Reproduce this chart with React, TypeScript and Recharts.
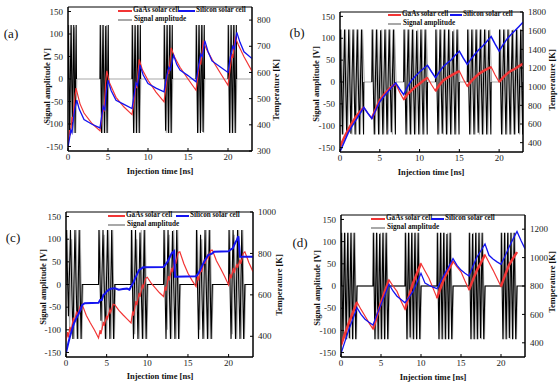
import { LineChart, Line, XAxis, YAxis, ReferenceArea } from "recharts";

type Pt = [number, number | null];

// shared ticks
const TIME_TICKS = [0, 5, 10, 15, 20];
const AMP_TICKS = [-150, -100, -50, 0, 50, 100, 150];

// ---------- panel (a) ----------
const A_TEMP_TICKS = [300, 400, 500, 600, 700, 800];
const A_GREY: Pt[] = [
  [0, 0], [0.1, 120], [0.28, -120], [0.46, 120], [0.63, -120], [0.8, 115], [0.96, -120], [1.1, 0],
  [4, 0], [4.1, 120], [4.28, -120], [4.46, 120], [4.63, -120], [4.8, 120], [4.96, -120], [5.1, 0],
  [8, 0], [8.1, 120], [8.28, -120], [8.46, 118], [8.63, -120], [8.8, 120], [8.97, -120], [9.1, 0],
  [12, 0], [12.1, 120], [12.28, -120], [12.46, 120], [12.63, -120], [12.8, 120], [12.96, -120], [13.1, 0],
  [16, 0], [16.1, 120], [16.28, -120], [16.46, 120], [16.63, -115], [16.8, 120], [16.96, -120], [17.1, 0],
  [20, 0], [20.1, 120], [20.28, -120], [20.46, 120], [20.63, -120], [20.8, 120], [20.97, -120], [21.1, 0], [23, 0],
];
const A_BLACK: Pt[] = [
  [0, 0], [0.03, 120], [0.2, -120], [0.38, 120], [0.55, -110], [0.72, 120], [0.88, -120], [1.02, 120], [1.06, 0], [1.07, null],
  [4, 0], [4.03, 120], [4.2, -120], [4.37, 120], [4.55, -120], [4.72, 118], [4.88, -120], [5.03, 120], [5.07, 0], [5.08, null],
  [8, 0], [8.03, 120], [8.2, -120], [8.38, 120], [8.55, -120], [8.72, 120], [8.9, -120], [9.04, 120], [9.08, 0], [9.09, null],
  [12, 0], [12.03, 120], [12.2, -115], [12.38, 120], [12.55, -120], [12.72, 120], [12.89, -120], [13.03, 120], [13.07, 0], [13.08, null],
  [16, 0], [16.03, 120], [16.2, -120], [16.37, 120], [16.55, -120], [16.72, 120], [16.88, -118], [17.03, 120], [17.07, 0], [17.08, null],
  [20, 0], [20.03, 120], [20.2, -120], [20.38, 120], [20.55, -120], [20.72, 120], [20.9, -120], [21.04, 120], [21.08, 0],
];
const A_GAAS: Pt[] = [
  [0, 335], [0.2, 380], [0.3, 360], [0.5, 430], [0.6, 410], [0.8, 490], [1.0, 540], [1.5, 480], [2, 445], [3, 405], [4, 377],
  [4.2, 420], [4.4, 470], [4.5, 450], [4.7, 560], [4.85, 606], [5.2, 560], [6, 505], [7, 468], [8, 439],
  [8.3, 500], [8.5, 560], [8.6, 540], [8.9, 650], [9.3, 610], [10, 570], [11, 525], [12, 488],
  [12.3, 560], [12.5, 610], [12.6, 595], [12.9, 694], [13.3, 660], [14, 620], [15, 575], [16, 532],
  [16.3, 600], [16.5, 650], [16.6, 630], [16.9, 717], [17.3, 690], [18, 650], [19, 600], [20, 551],
  [20.3, 620], [20.5, 670], [20.6, 655], [20.9, 734], [21.3, 705], [22, 660], [23, 605],
];
const A_SI: Pt[] = [
  [0, 315], [0.2, 350], [0.35, 380], [0.5, 370], [0.7, 430], [0.85, 460], [1.1, 494], [1.4, 460], [2, 420], [3, 402], [4, 388],
  [4.2, 430], [4.4, 470], [4.6, 455], [4.8, 530], [5.0, 570], [5.4, 530], [6, 494], [7, 478], [8, 462],
  [8.3, 520], [8.5, 560], [8.7, 550], [9.0, 628], [9.4, 590], [10, 558], [11, 540], [12, 526],
  [12.3, 580], [12.6, 620], [12.8, 610], [13.2, 666], [13.6, 630], [14, 609], [15, 588], [16, 564],
  [16.3, 620], [16.6, 670], [16.8, 660], [17.1, 721], [17.5, 680], [18, 644], [19, 622], [20, 600],
  [20.3, 660], [20.6, 700], [20.8, 690], [21.1, 753], [21.5, 715], [22, 679], [23, 653],
];

// ---------- panel (b) ----------
const B_TEMP_TICKS = [400, 600, 800, 1000, 1200, 1400, 1600, 1800];
const B_BURSTS: [number, number][] = [[0, 3], [4, 7], [8, 11], [12, 15], [16, 19], [20, 23]];
const B_GREY: Pt[] = [
  [0, 0], [0.18, 120], [0.44, -120], [0.7, 120], [0.97, -120], [1.24, 120], [1.5, -120], [1.77, 120], [2.04, -120], [2.3, 120], [2.57, -120], [2.83, 120], [3.05, 0],
  [4, 0], [4.18, 120], [4.44, -120], [4.71, 120], [4.98, -120], [5.24, 120], [5.51, -120], [5.78, 120], [6.04, -120], [6.31, 120], [6.58, -120], [6.84, 120], [7.05, 0],
  [8, 0], [8.18, 120], [8.44, -120], [8.71, 120], [8.98, -120], [9.24, 120], [9.51, -120], [9.78, 120], [10.04, -120], [10.31, 120], [10.58, -120], [10.84, 120], [11.05, 0],
  [12, 0], [12.18, 120], [12.44, -120], [12.71, 120], [12.98, -120], [13.24, 120], [13.51, -120], [13.78, 120], [14.04, -120], [14.31, 120], [14.58, -120], [14.84, 120], [15.05, 0],
  [16, 0], [16.18, 120], [16.44, -120], [16.71, 120], [16.98, -120], [17.24, 120], [17.51, -120], [17.78, 120], [18.04, -120], [18.31, 120], [18.58, -120], [18.84, 120], [19.05, 0],
  [20, 0], [20.18, 120], [20.44, -120], [20.71, 120], [20.98, -120], [21.24, 120], [21.51, -120], [21.78, 120], [22.04, -120], [22.31, 120], [22.58, -120], [22.84, 120], [23, 0],
];
const B_BLACK: Pt[] = [
  [0, 0], [0.05, 120], [0.3, -120], [0.57, 120], [0.84, -120], [1.1, 120], [1.37, -118], [1.64, 120], [1.9, -120], [2.17, 120], [2.44, -120], [2.7, 120], [2.96, -120], [3.0, 0], [3.01, null],
  [4, 0], [4.05, 120], [4.31, -120], [4.58, 120], [4.85, -120], [5.11, 118], [5.38, -120], [5.65, 120], [5.91, -120], [6.18, 120], [6.45, -115], [6.71, 120], [6.96, -120], [7.0, 0], [7.01, null],
  [8, 0], [8.05, 120], [8.3, -120], [8.57, 120], [8.84, -120], [9.1, 120], [9.37, -120], [9.64, 117], [9.9, -120], [10.17, 120], [10.44, -120], [10.7, 120], [10.96, -120], [11.0, 0], [11.01, null],
  [12, 0], [12.05, 120], [12.31, -120], [12.58, 120], [12.85, -118], [13.11, 120], [13.38, -120], [13.65, 120], [13.91, -120], [14.18, 116], [14.45, -120], [14.71, 120], [14.96, -120], [15.0, 0], [15.01, null],
  [16, 0], [16.05, 120], [16.3, -120], [16.57, 120], [16.84, -120], [17.1, 120], [17.37, -116], [17.64, 120], [17.9, -120], [18.17, 120], [18.44, -120], [18.7, 118], [18.96, -120], [19.0, 0], [19.01, null],
  [20, 0], [20.05, 120], [20.31, -120], [20.58, 120], [20.85, -120], [21.11, 120], [21.38, -120], [21.65, 118], [21.91, -120], [22.18, 120], [22.45, -117], [22.71, 120], [22.96, -120], [23.0, 0],
];
const B_GAAS: Pt[] = [
  [0, 357], [0.5, 450], [1, 535], [1.5, 610], [2, 677], [2.5, 730], [3, 777], [3.5, 715], [4, 659],
  [4.5, 760], [5, 855], [5.5, 910], [6, 961], [6.5, 1000], [7, 1032], [7.5, 940], [8, 862],
  [8.5, 920], [9, 961], [9.5, 1000], [10, 1032], [10.5, 1065], [11, 1096], [11.5, 1020], [12, 954],
  [12.5, 1020], [13, 1068], [13.5, 1095], [14, 1121], [14.5, 1145], [15, 1167], [15.5, 1080], [16, 1004],
  [16.5, 1060], [17, 1103], [17.5, 1140], [18, 1167], [18.5, 1190], [19, 1210], [19.5, 1125], [20, 1050],
  [20.5, 1100], [21, 1139], [21.5, 1170], [22, 1192], [22.5, 1220], [23, 1246],
];
const B_SI: Pt[] = [
  [0, 304], [0.5, 400], [1, 499], [1.5, 575], [2, 641], [2.5, 710], [3, 777], [3.5, 715], [4, 659],
  [4.5, 750], [5, 837], [5.5, 895], [6, 944], [6.5, 995], [7, 1040], [7.5, 975], [8, 915],
  [8.5, 1000], [9, 1068], [9.5, 1115], [10, 1157], [10.5, 1195], [11, 1228], [11.5, 1160], [12, 1096],
  [12.5, 1160], [13, 1217], [13.5, 1255], [14, 1288], [14.5, 1340], [15, 1381], [15.5, 1305], [16, 1239],
  [16.5, 1300], [17, 1352], [17.5, 1400], [18, 1441], [18.5, 1490], [19, 1537], [19.5, 1455], [20, 1381],
  [20.5, 1450], [21, 1512], [21.5, 1560], [22, 1601], [22.5, 1645], [23, 1690],
];

// ---------- panel (c) ----------
const C_TEMP_TICKS = [400, 600, 800, 1000];
const C_GREY: Pt[] = [
  [0, 0], [0.15, 120], [0.45, -100], [0.7, 100], [1.0, -120], [1.25, 120], [1.55, -120], [1.75, 120], [1.95, -120], [2.1, 0],
  [4, 0], [4.15, 120], [4.45, -100], [4.7, 110], [5.0, -120], [5.25, 120], [5.55, -120], [5.75, 120], [5.95, -120], [6.1, 0],
  [8, 0], [8.15, 120], [8.45, -110], [8.7, 100], [9.0, -120], [9.25, 120], [9.55, -120], [9.75, 120], [9.95, -120], [10.1, 0],
  [12, 0], [12.15, 120], [12.45, -100], [12.7, 110], [13.0, -120], [13.25, 120], [13.55, -120], [13.75, 120], [13.95, -120], [14.1, 0],
  [16, 0], [16.15, 120], [16.45, -100], [16.7, 100], [17.0, -120], [17.25, 120], [17.55, -120], [17.75, 120], [17.95, -120], [18.1, 0],
  [20, 0], [20.15, 120], [20.45, -110], [20.7, 110], [21.0, -120], [21.25, 120], [21.55, -120], [21.75, 120], [21.95, -120], [22.1, 0], [23, 0],
];
const C_BLACK: Pt[] = [
  [0, 0], [0.05, 120], [0.3, -70], [0.55, 120], [0.85, -120], [1.1, 120], [1.4, -120], [1.62, 120], [1.85, -120], [2.0, 0],
  [4, 0], [4.05, 120], [4.3, -80], [4.55, 120], [4.85, -120], [5.1, 120], [5.4, -120], [5.62, 120], [5.85, -120], [6.0, 0],
  [8, 0], [8.05, 120], [8.3, -120], [8.55, 120], [8.85, -120], [9.1, 115], [9.4, -120], [9.62, 120], [9.85, -120], [10.0, 0],
  [12, 0], [12.05, 120], [12.3, -120], [12.55, 120], [12.85, -120], [13.1, 118], [13.4, -120], [13.62, 120], [13.85, -120], [14.0, 0],
  [16, 0], [16.05, 120], [16.3, -120], [16.55, 110], [16.85, -120], [17.1, 120], [17.4, -120], [17.62, 120], [17.85, -120], [18.0, 0],
  [20, 0], [20.05, 120], [20.3, -120], [20.55, 120], [20.85, -120], [21.1, 120], [21.4, -120], [21.62, 120], [21.85, -120], [22.0, 0], [23, 0],
];
const C_GAAS: Pt[] = [
  [0, 376], [0.2, 420], [0.3, 395], [0.5, 445], [0.6, 420], [0.9, 490], [1.0, 465], [1.3, 520], [1.4, 500], [1.7, 540], [1.8, 525], [2, 552],
  [2.5, 500], [3, 464], [3.5, 430], [4, 392],
  [4.2, 430], [4.3, 410], [4.6, 470], [4.7, 450], [5, 500], [5.1, 485], [5.4, 530], [5.5, 515], [5.8, 555], [6, 552],
  [6.5, 525], [7, 504], [7.5, 484], [8, 464],
  [8.2, 520], [8.3, 500], [8.6, 570], [8.7, 550], [9, 610], [9.1, 590], [9.4, 650], [9.5, 635], [9.8, 680], [10, 685],
  [10.5, 655], [11, 632], [11.5, 610], [12, 592],
  [12.2, 640], [12.3, 620], [12.6, 690], [12.7, 670], [13, 730], [13.1, 710], [13.4, 770], [13.5, 750], [13.8, 805], [14, 808],
  [14.5, 750], [15, 704], [15.5, 670], [16, 640],
  [16.2, 690], [16.3, 670], [16.6, 730], [16.7, 710], [17, 770], [17.1, 750], [17.4, 790], [17.5, 775], [17.8, 815], [18, 816],
  [18.5, 765], [19, 728], [19.5, 690], [20, 648],
  [20.2, 700], [20.3, 680], [20.6, 730], [20.7, 705], [21, 750], [21.1, 730], [21.4, 770], [21.5, 750], [21.8, 800], [22, 808],
  [22.5, 755], [23, 712],
];
const C_SI: Pt[] = [
  [0, 320], [0.3, 370], [0.5, 400], [0.8, 440], [1, 464], [1.3, 490], [1.5, 504], [1.8, 530], [2, 552], [2.3, 560], [4, 562],
  [4.2, 575], [4.4, 575], [4.6, 600], [4.8, 605], [5, 616], [5.3, 625], [5.5, 630], [6, 632], [6.5, 625], [7, 628], [7.5, 630], [7.8, 625],
  [8, 640], [8.3, 660], [8.5, 680], [8.8, 705], [9, 720], [9.3, 728], [9.5, 733], [12, 735],
  [12.3, 750], [12.5, 760], [12.8, 785], [13, 800], [13.3, 811], [13.4, 688], [16, 690],
  [16.3, 705], [16.5, 720], [16.8, 745], [17, 760], [17.3, 780], [17.5, 792], [18, 800], [18.2, 808], [20, 810],
  [20.3, 820], [20.5, 824], [20.8, 850], [21, 864], [21.2, 883], [21.4, 784], [23, 784],
];

// ---------- panel (d) ----------
const D_TEMP_TICKS = [400, 600, 800, 1000, 1200];
const D_BURSTS: [number, number][] = [[0, 2], [4, 6], [8, 10], [12, 14], [16, 18], [20, 22]];
const D_GREY: Pt[] = [
  [0, 0], [0.14, 120], [0.34, -120], [0.54, 120], [0.74, -120], [0.94, 120], [1.14, -120], [1.34, 120], [1.54, -120], [1.74, 120], [1.94, -120], [2.05, 0],
  [4, 0], [4.14, 120], [4.34, -120], [4.54, 120], [4.74, -120], [4.94, 120], [5.14, -120], [5.34, 120], [5.54, -120], [5.74, 120], [5.94, -120], [6.05, 0],
  [8, 0], [8.14, 120], [8.34, -120], [8.54, 120], [8.74, -120], [8.94, 120], [9.14, -120], [9.34, 120], [9.54, -120], [9.74, 120], [9.94, -120], [10.05, 0],
  [12, 0], [12.14, 120], [12.34, -120], [12.54, 120], [12.74, -120], [12.94, 120], [13.14, -120], [13.34, 120], [13.54, -120], [13.74, 120], [13.94, -120], [14.05, 0],
  [16, 0], [16.14, 120], [16.34, -120], [16.54, 120], [16.74, -120], [16.94, 120], [17.14, -120], [17.34, 120], [17.54, -120], [17.74, 120], [17.94, -120], [18.05, 0],
  [20, 0], [20.14, 120], [20.34, -120], [20.54, 120], [20.74, -120], [20.94, 120], [21.14, -120], [21.34, 120], [21.54, -120], [21.74, 120], [21.94, -120], [22.05, 0],
];
const D_BLACK: Pt[] = [
  [0, 0], [0.04, 120], [0.24, -120], [0.44, 120], [0.64, -120], [0.84, 120], [1.04, -118], [1.24, 120], [1.44, -120], [1.64, 120], [1.84, -120], [2.0, 0],
  [4, 0], [4.04, 120], [4.24, -120], [4.44, 120], [4.64, -120], [4.84, 118], [5.04, -120], [5.24, 120], [5.44, -120], [5.64, 120], [5.84, -120], [6.0, 0],
  [8, 0], [8.04, 120], [8.24, -120], [8.44, 120], [8.64, -116], [8.84, 120], [9.04, -120], [9.24, 120], [9.44, -120], [9.64, 120], [9.84, -120], [10.0, 0],
  [12, 0], [12.04, 120], [12.24, -120], [12.44, 120], [12.64, -120], [12.84, 120], [13.04, -120], [13.24, 117], [13.44, -120], [13.64, 120], [13.84, -120], [14.0, 0],
  [16, 0], [16.04, 120], [16.24, -120], [16.44, 118], [16.64, -120], [16.84, 120], [17.04, -120], [17.24, 120], [17.44, -118], [17.64, 120], [17.84, -120], [18.0, 0],
  [20, 0], [20.04, 120], [20.24, -120], [20.44, 120], [20.64, -120], [20.84, 120], [21.04, -117], [21.24, 120], [21.44, -120], [21.64, 120], [21.84, -120], [22.0, 0], [23, 0],
];
const D_GAAS: Pt[] = [
  [0, 382], [0.5, 465], [1, 543], [1.5, 615], [2, 686], [2.5, 635], [3, 589], [3.5, 540], [4, 497],
  [4.5, 590], [5, 682], [5.5, 765], [6, 843], [6.5, 800], [7, 762], [7.5, 695], [8, 635],
  [8.5, 730], [9, 820], [9.5, 890], [10, 958], [10.5, 905], [11, 854], [11.5, 785], [12, 716],
  [12.5, 795], [13, 866], [13.5, 920], [14, 974], [14.5, 935], [15, 900], [15.5, 835], [16, 774],
  [16.5, 845], [17, 912], [17.5, 965], [18, 1020], [18.5, 965], [19, 912], [19.5, 855], [20, 797],
  [20.5, 875], [21, 947], [21.5, 995], [22, 1039],
];
const D_SI: Pt[] = [
  [0, 324], [0.5, 410], [1, 497], [1.5, 570], [2, 647], [2.5, 600], [3, 566], [3.5, 545], [4, 525],
  [4.5, 600], [5, 670], [5.5, 740], [6, 813], [6.5, 765], [7, 728], [7.5, 705], [8, 682],
  [8.5, 720], [9, 762], [9.5, 825], [10, 889], [10.5, 820], [11, 805], [11.5, 792], [12, 781],
  [12.5, 835], [13, 889], [13.5, 940], [14, 993], [14.5, 945], [15, 912], [15.5, 890], [16, 871],
  [16.5, 940], [17, 1004], [17.5, 1050], [18, 1096], [18.5, 1016], [19, 990], [19.5, 970], [20, 953],
  [20.5, 1010], [21, 1073], [21.5, 1130], [22, 1184], [22.5, 1120], [23, 1062],
];

const SERIF = '"Liberation Serif", "Times New Roman", serif';
const RED = "#f23535";
const BLUE = "#1414f0";
const GREY = "#a8a8a8";

const toRows = (pts: Pt[]) => pts.map(([t, v]) => ({ t, v }));

// keep only the samples that fall inside a burst window (for the thick red overlay)
const inBursts = (pts: Pt[], bursts: [number, number][]) =>
  pts.map(([t, v]) => ({ t, v: bursts.some(([s, e]) => t >= s && t <= e) ? v : null }));

const tickStyle = { fill: "#222", fontSize: 9, fontFamily: SERIF };

interface PanelProps {
  x: number;
  y: number;
  w: number;
  h: number;
  margin: { top: number; right: number; bottom: number; left: number };
  leftW: number;
  rightW: number;
  tempDomain: [number, number];
  tempTicks: number[];
  grey: Pt[];
  black: Pt[];
  gaas: Pt[];
  si: Pt[];
  bursts?: [number, number][];
  siWidth: number;
}

function Panel(p: PanelProps) {
  return (
    <div style={{ position: "absolute", left: p.x, top: p.y }}>
      <LineChart width={p.w} height={p.h} margin={p.margin}>
        <XAxis
          dataKey="t"
          type="number"
          domain={[0, 23]}
          ticks={TIME_TICKS}
          interval={0}
          allowDataOverflow
          height={20}
          tickSize={-3}
          tickMargin={6}
          stroke="#000"
          tick={tickStyle}
        />
        <YAxis
          yAxisId="amp"
          type="number"
          domain={[-160, 160]}
          ticks={AMP_TICKS}
          interval={0}
          allowDataOverflow
          width={p.leftW}
          tickSize={-3}
          tickMargin={8}
          stroke="#000"
          tick={tickStyle}
        />
        <YAxis
          yAxisId="temp"
          orientation="right"
          type="number"
          domain={p.tempDomain}
          ticks={p.tempTicks}
          interval={0}
          allowDataOverflow
          width={p.rightW}
          tickSize={-3}
          tickMargin={8}
          stroke="#000"
          tick={tickStyle}
        />
        <ReferenceArea yAxisId="amp" x1={0} x2={23} y1={-160} y2={160} fill="none" stroke="#000" strokeWidth={1} />
        <Line yAxisId="amp" data={toRows(p.grey)} dataKey="v" stroke={GREY} strokeWidth={1.1} dot={false} isAnimationActive={false} />
        <Line yAxisId="amp" data={toRows(p.black)} dataKey="v" stroke="#000" strokeWidth={1.1} dot={false} isAnimationActive={false} />
        <Line yAxisId="temp" data={toRows(p.gaas)} dataKey="v" stroke={RED} strokeWidth={1.2} dot={false} isAnimationActive={false} />
        {p.bursts && (
          <Line yAxisId="temp" data={inBursts(p.gaas, p.bursts)} dataKey="v" stroke={RED} strokeWidth={2.5} dot={false} isAnimationActive={false} />
        )}
        <Line yAxisId="temp" data={toRows(p.si)} dataKey="v" stroke={BLUE} strokeWidth={p.siWidth} dot={false} isAnimationActive={false} />
      </LineChart>
    </div>
  );
}

function Txt({ x, y, text, size, bold, rotate, anchor = "middle" }: {
  x: number; y: number; text: string; size: number; bold?: boolean; rotate?: boolean; anchor?: "middle" | "start";
}) {
  const tx = anchor === "middle" ? "-50%" : "0";
  return (
    <div
      style={{
        position: "absolute",
        left: x,
        top: y,
        fontFamily: SERIF,
        fontSize: size,
        fontWeight: bold ? 700 : 400,
        lineHeight: 1,
        whiteSpace: "nowrap",
        color: "#111",
        transform: `translate(${tx}, -50%)${rotate ? " rotate(-90deg)" : ""}`,
        transformOrigin: "center",
      }}
    >
      {text}
    </div>
  );
}

function Seg({ x1, x2, y, color, w }: { x1: number; x2: number; y: number; color: string; w: number }) {
  return <div style={{ position: "absolute", left: x1, top: y - w / 2, width: x2 - x1, height: w, background: color }} />;
}

function Legend3({ x, x2, bx1, bx2, y, redW, blueW }: {
  x: number; x2: number; bx1: number; bx2: number; y: number; redW: number; blueW: number;
}) {
  return (
    <>
      <Seg x1={x} x2={x2} y={y} color={RED} w={redW} />
      <Txt x={x2 + 1} y={y} text="GaAs solar cell" size={7.2} bold anchor="start" />
      <Seg x1={bx1} x2={bx2} y={y} color={BLUE} w={blueW} />
      <Txt x={bx2 + 1} y={y} text="Silicon solar cell" size={7.2} bold anchor="start" />
      <Seg x1={x} x2={x2} y={y + 9} color={GREY} w={1.2} />
      <Txt x={x2 + 2} y={y + 9} text="Signal amplitude" size={7.2} bold anchor="start" />
    </>
  );
}

export default function App() {
  return (
    <div style={{ position: "absolute", left: 0, top: 0, width: 558, height: 385, background: "#fff", overflow: "hidden" }}>
      {/* (a) */}
      <Panel
        x={0} y={0} w={280} h={180}
        margin={{ top: 7, right: 2, bottom: 9, left: 0 }}
        leftW={68} rightW={26}
        tempDomain={[300, 850]} tempTicks={A_TEMP_TICKS}
        grey={A_GREY} black={A_BLACK} gaas={A_GAAS} si={A_SI} siWidth={1.3}
      />
      {/* (b) */}
      <Panel
        x={280} y={0} w={278} h={180}
        margin={{ top: 12, right: 7, bottom: 8, left: 0 }}
        leftW={60} rightW={28}
        tempDomain={[300, 1800]} tempTicks={B_TEMP_TICKS}
        grey={B_GREY} black={B_BLACK} gaas={B_GAAS} si={B_SI} bursts={B_BURSTS} siWidth={1.5}
      />
      {/* (c) */}
      <Panel
        x={0} y={195} w={280} h={190}
        margin={{ top: 17, right: 1, bottom: 8, left: 0 }}
        leftW={66} rightW={26}
        tempDomain={[300, 1000]} tempTicks={C_TEMP_TICKS}
        grey={C_GREY} black={C_BLACK} gaas={C_GAAS} si={C_SI} siWidth={2}
      />
      {/* (d) */}
      <Panel
        x={280} y={195} w={278} h={190}
        margin={{ top: 20, right: 7, bottom: 8, left: 0 }}
        leftW={61} rightW={26}
        tempDomain={[300, 1300]} tempTicks={D_TEMP_TICKS}
        grey={D_GREY} black={D_BLACK} gaas={D_GAAS} si={D_SI} bursts={D_BURSTS} siWidth={1.3}
      />

      {/* panel letters */}
      <Txt x={11} y={33} text="(a)" size={13} />
      <Txt x={297} y={32} text="(b)" size={13} />
      <Txt x={13} y={237} text="(c)" size={13} />
      <Txt x={300} y={242} text="(d)" size={13} />

      {/* axis titles */}
      <Txt x={47} y={86} text="Signal amplitude [V]" size={8.5} bold rotate />
      <Txt x={276} y={90} text="Temperature [K]" size={8.5} bold rotate />
      <Txt x={160} y={171} text="Injection time [ns]" size={8.5} bold />

      <Txt x={316} y={84} text="Signal amplitude [V]" size={8.5} bold rotate />
      <Txt x={552} y={80} text="Temperature [K]" size={8.5} bold rotate />
      <Txt x={431} y={172} text="Injection time [ns]" size={8.5} bold />

      <Txt x={43} y={287} text="Signal amplitude [V]" size={8.5} bold rotate />
      <Txt x={279} y={285} text="Temperature [K]" size={8.5} bold rotate />
      <Txt x={160} y={376} text="Injection time [ns]" size={8.5} bold />

      <Txt x={317} y={288} text="Signal amplitude [V]" size={8.5} bold rotate />
      <Txt x={552} y={282} text="Temperature [K]" size={8.5} bold rotate />
      <Txt x={433} y={377} text="Injection time [ns]" size={8.5} bold />

      {/* legends */}
      <Legend3 x={118} x2={132} bx1={178} bx2={195} y={11} redW={1.3} blueW={1.5} />
      <Legend3 x={388} x2={401} bx1={450} bx2={462} y={15} redW={2.5} blueW={1.6} />
      <Legend3 x={108} x2={125} bx1={176} bx2={189} y={216} redW={1.3} blueW={2} />
      <Legend3 x={371} x2={385} bx1={431} bx2={444} y={219} redW={2.5} blueW={1.6} />
    </div>
  );
}
